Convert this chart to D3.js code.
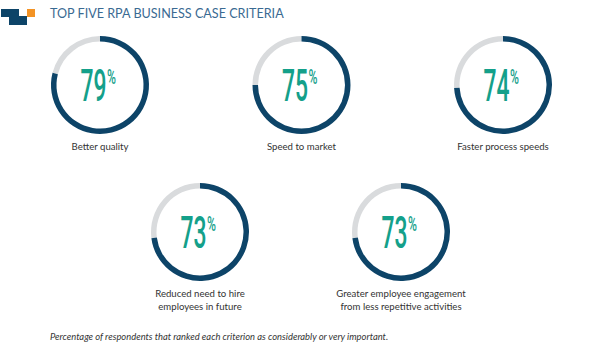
<!DOCTYPE html>
<html><head><meta charset="utf-8">
<script src="https://cdn.jsdelivr.net/npm/d3@7"></script>
<style>
body{margin:0;background:#fff;}
svg{display:block;}
</style></head>
<body>
<svg id="chart" width="600" height="358"></svg>
<script>
const title = "TOP FIVE RPA BUSINESS CASE CRITERIA";
const categories = [
  ["Better quality"],
  ["Speed to market"],
  ["Faster process speeds"],
  ["Reduced need to hire", "employees in future"],
  ["Greater employee engagement", "from less repetitive activities"]
];
const values = [79, 75, 74, 73, 73];
const footnote = "Percentage of respondents that ranked each criterion as considerably or very important.";

const svg = d3.select("#chart");
const NAVY = "#0d4468", GRAY = "#d9dbdd", TEAL = "#14a08a";

// logo
svg.append("rect").attr("x",1).attr("y",9).attr("width",18).attr("height",8).attr("fill",NAVY);
svg.append("rect").attr("x",9).attr("y",16).attr("width",18).attr("height",9).attr("fill",NAVY);
svg.append("rect").attr("x",27).attr("y",9).attr("width",8).attr("height",8).attr("fill","#f39325");

svg.append("text").attr("x",50).attr("y",17.5)
  .attr("font-family","Lato").attr("font-size",12.6).attr("fill","#3a6a92")
  .text(title);

// positions via scales
const xRow1 = d3.scalePoint().domain([0,1,2]).range([100,503]);
const xRow2 = d3.scalePoint().domain([3,4]).range([200,401]);
const yRow = d3.scalePoint().domain([0,1]).range([85,232]);
const pos = (i) => i < 3 ? [xRow1(i), yRow(0)] : [xRow2(i), yRow(1)];

const angle = d3.scaleLinear().domain([0,100]).range([0, 2*Math.PI]);
const rOuter = 49, rInner = 43.5;
const arc = d3.arc().innerRadius(rInner).outerRadius(rOuter);

values.forEach((v,i) => {
  const [cx, cy] = pos(i);
  const g = svg.append("g").attr("transform",`translate(${cx},${cy})`);
  g.append("path").attr("d", arc({startAngle: angle(v), endAngle: angle(100)})).attr("fill", GRAY);
  g.append("path").attr("d", arc({startAngle: 0, endAngle: angle(v)})).attr("fill", NAVY);
  const t = g.append("g").attr("transform","translate(-19.5,15.5) scale(0.52,1)");
  t.append("text").attr("x",0).attr("y",0)
    .attr("font-family","Roboto").attr("font-size",44).attr("font-weight",500)
    .attr("fill",TEAL).text(String(v));
  const p = g.append("g").attr("transform","translate(7,-1) scale(0.58,1)");
  p.append("text").attr("x",0).attr("y",0)
    .attr("font-family","Roboto").attr("font-size",21).attr("font-weight",500)
    .attr("fill",TEAL).text("%");
  categories[i].forEach((line, j) => {
    g.append("text").attr("x",0).attr("y", 65 + j*13)
      .attr("text-anchor","middle").attr("font-family","Lato").attr("font-size",9.6)
      .attr("fill","#333").text(line);
  });
});

svg.append("text").attr("x",50).attr("y",340)
  .attr("font-family","Lato").attr("font-style","italic").attr("font-size",9.4)
  .attr("fill","#333").text(footnote);
</script>
</body></html>
